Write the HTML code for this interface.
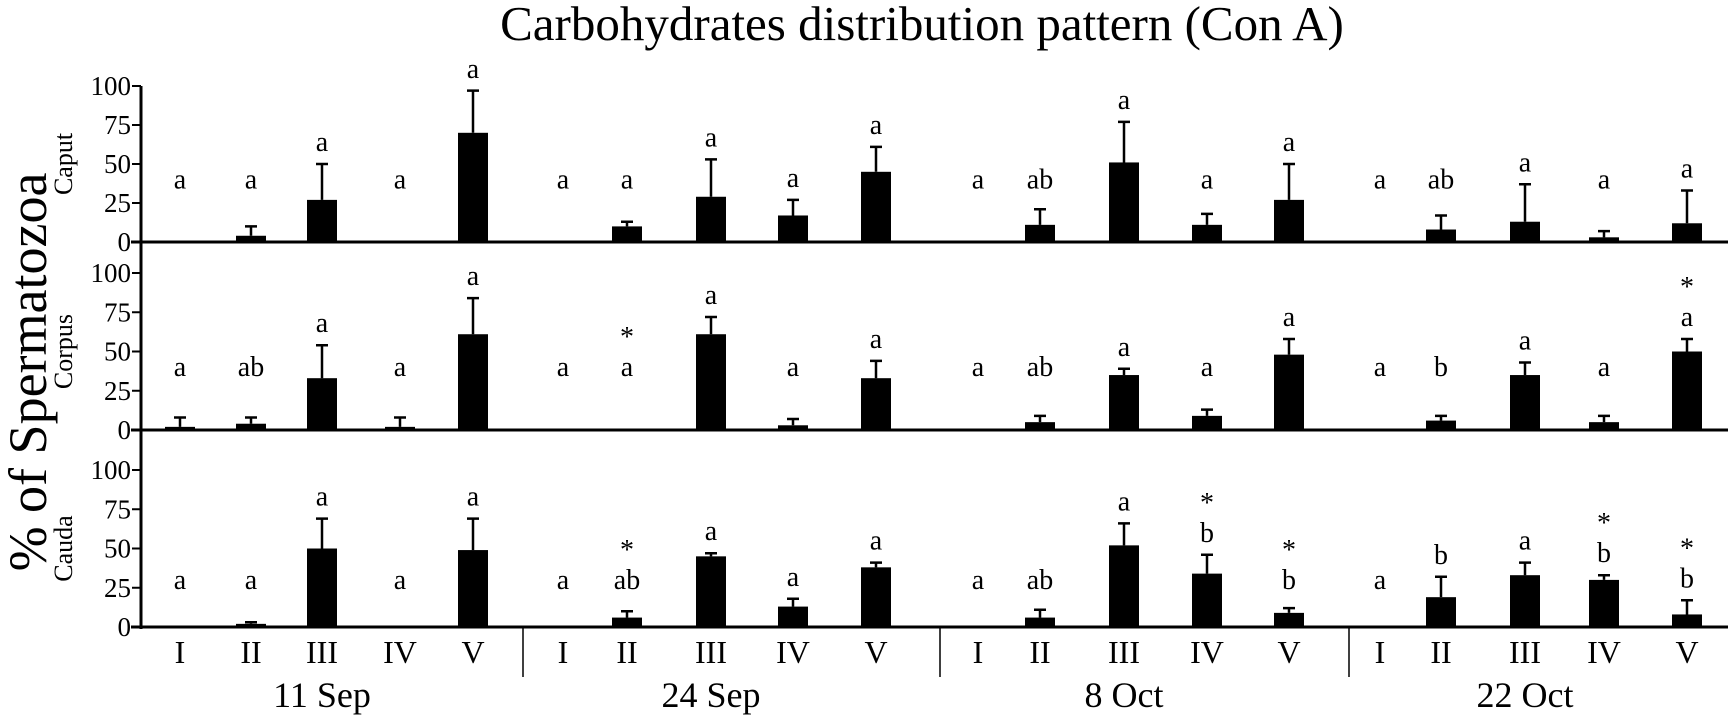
<!DOCTYPE html>
<html><head><meta charset="utf-8"><style>
html,body{margin:0;padding:0;background:#fff}
svg{display:block;font-family:"Liberation Serif",serif}
</style></head><body>
<svg id="chart" width="1731" height="718" viewBox="0 0 1731 718">
<text x="922" y="40" font-size="49" text-anchor="middle">Carbohydrates distribution pattern (Con A)</text>
<text transform="translate(46,372) rotate(-90)" font-size="54" text-anchor="middle">% of Spermatozoa</text>
<g id="plot"></g>
</svg>
<script>
const dates = ["11 Sep","24 Sep","8 Oct","22 Oct"];
const stages = ["I","II","III","IV","V"];
const panels = ["Caput","Corpus","Cauda"];
const yTicks = [0,25,50,75,100];
const caputVals = [0,4,27,0,70, 0,10,29,17,45, 0,11,51,11,27, 0,8,13,3,12];
const caputErr  = [0,10,50,0,97, 0,13,53,27,61, 0,21,77,18,50, 0,17,37,7,33];
const corpusVals = [2,4,33,2,61, 0,0,61,3,33, 0,5,35,9,48, 0,6,35,5,50];
const corpusErr  = [8,8,54,8,84, 0,0,72,7,44, 0,9,39,13,58, 0,9,43,9,58];
const caudaVals = [0,2,50,0,49, 0,6,45,13,38, 0,6,52,34,9, 0,19,33,30,8];
const caudaErr  = [0,3,69,0,69, 0,10,47,18,41, 0,11,66,46,12, 0,32,41,33,17];
const caputLetters = ["a","a","a","a","a", "a","a","a","a","a", "a","ab","a","a","a", "a","ab","a","a","a"];
const corpusLetters = ["a","ab","a","a","a", "a","a","a","a","a", "a","ab","a","a","a", "a","b","a","a","a"];
const caudaLetters = ["a","a","a","a","a", "a","ab","a","a","a", "a","ab","a","b","b", "a","b","a","b","b"];
const caputStars = [0,0,0,0,0, 0,0,0,0,0, 0,0,0,0,0, 0,0,0,0,0];
const corpusStars = [0,0,0,0,0, 0,1,0,0,0, 0,0,0,0,0, 0,0,0,0,1];
const caudaStars = [0,0,0,0,0, 0,1,0,0,0, 0,0,0,1,1, 0,0,0,1,1];

const NS="http://www.w3.org/2000/svg";
const plot=document.getElementById('plot');
const AX=141, XEND=1728;
const panelGeo=[{top:86,base:242},{top:273,base:430},{top:470,base:627}];
const slotX=[180,251,322,400,473, 563,627,711,793,876, 978,1040,1124,1207,1289, 1380,1441,1525,1604,1687];
function xPos(i){return slotX[i];}
function yScale(p,v){const g=panelGeo[p];return g.base-(g.base-g.top)*v/100;}
function mk(tag,attrs){const e=document.createElementNS(NS,tag);for(const k in attrs)e.setAttribute(k,attrs[k]);plot.appendChild(e);return e;}
const allVals=[caputVals,corpusVals,caudaVals],allErr=[caputErr,corpusErr,caudaErr];
const allLet=[caputLetters,corpusLetters,caudaLetters],allStar=[caputStars,corpusStars,caudaStars];
const minLetter=[40,40,30];

let ax=mk('line',{x1:AX,x2:AX,y1:panelGeo[0].top,y2:panelGeo[2].base+2,stroke:'#000','stroke-width':3});



panels.forEach((pn,p)=>{
  const g=panelGeo[p];
  const bl=mk('line',{x1:AX-10,x2:XEND,y1:g.base,y2:g.base,stroke:'#000','stroke-width':3});
  
  
  const lab=mk('text',{transform:`translate(72,${(g.top+g.base)/2}) rotate(-90)`,'font-size':26,'text-anchor':'middle'});
  lab.textContent=pn;
  
  
  yTicks.forEach(t=>{
    const y=yScale(p,t);
    const tk=mk('line',{x1:AX-9,x2:AX,y1:y,y2:y,stroke:'#000','stroke-width':2});
    
    
    const tl=mk('text',{x:AX-10,y:y+9,'font-size':27,'text-anchor':'end'});
    tl.textContent=t;
    
    
  });
  allVals[p].forEach((v,i)=>{
    const x=xPos(i),e=allErr[p][i];
    if(v>0){
      const b=mk('rect',{x:x-15,y:yScale(p,v),width:30,height:g.base-yScale(p,v),fill:'#000'});
      
      
    }
    if(e>v){
      const el=mk('path',{d:`M${x},${yScale(p,v)}V${yScale(p,e)}M${x-6},${yScale(p,e)}H${x+6}`,stroke:'#000','stroke-width':2.5,fill:'none'});
      
      
    }
    const ly=yScale(p,Math.max(e+14,minLetter[p]))+9;
    const lt=mk('text',{x:x,y:ly,'font-size':28,'text-anchor':'middle'});
    lt.textContent=allLet[p][i];
    
    
    if(allStar[p][i]){
      const st=mk('text',{x:x,y:ly-30,'font-size':28,'text-anchor':'middle'});
      st.textContent='*';
      
      
    }
  });
});

for(let i=0;i<20;i++){
  const t=mk('text',{x:xPos(i),y:663,'font-size':32,'text-anchor':'middle'});
  t.textContent=stages[i%5];
  
  
}
dates.forEach((d,g)=>{
  const t=mk('text',{x:slotX[g*5+2],y:707,'font-size':36,'text-anchor':'middle'});
  t.textContent=d;
  
  
});
[523,940,1349].forEach(x=>{
  const l=mk('line',{x1:x,x2:x,y1:627,y2:677,stroke:'#000','stroke-width':1.5});
  
  
});
</script>
</body></html>
